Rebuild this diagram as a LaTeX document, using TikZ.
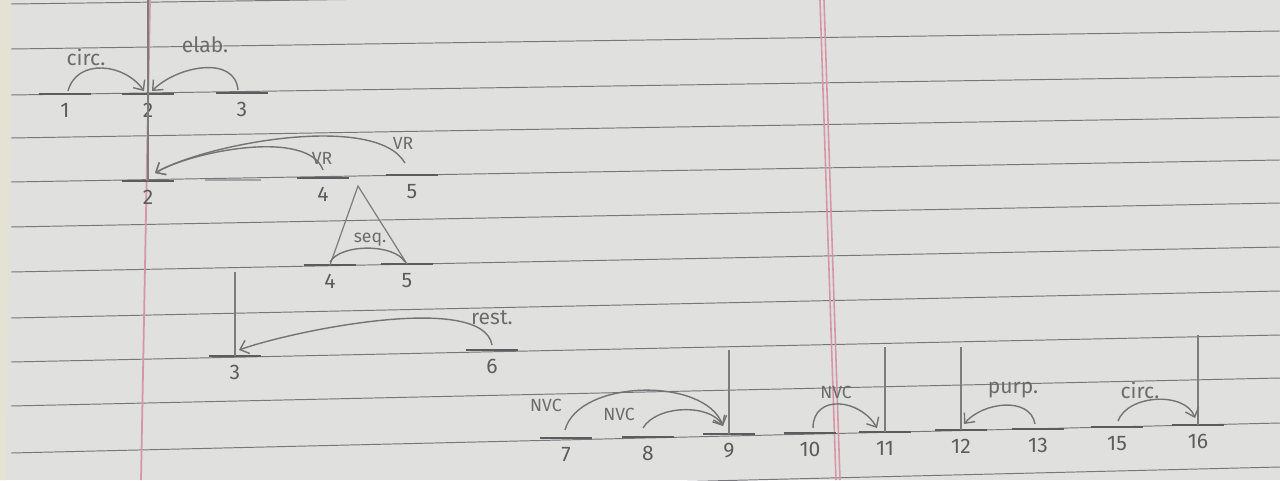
\documentclass[tikz,border=0pt]{standalone}
\usepackage{fontspec}
\setmainfont{Fira Sans}
\usetikzlibrary{arrows.meta}

\definecolor{paper}{RGB}{224,224,222}
\definecolor{ruling}{RGB}{118,118,124}
\definecolor{marginred}{RGB}{214,150,166}
\definecolor{pencil}{RGB}{92,92,92}
\definecolor{paperedge}{RGB}{228,226,210}

\begin{document}
\begin{tikzpicture}[
  x=0.02cm, y=-0.02cm,
  >={Straight Barb[length=4.5pt,width=8pt]},
  font=\fontsize{12}{14}\selectfont,
  seg/.style={inner sep=0pt, minimum width=1.04cm, minimum height=0pt,
    append after command={(\tikzlastnode.west) edge[draw=pencil, line width=1.2pt] (\tikzlastnode.east)}},
  gapseg/.style={inner sep=0pt, minimum width=1.1cm, minimum height=0pt,
    append after command={(\tikzlastnode.west) edge[draw=pencil!55, line width=1.2pt] (\tikzlastnode.east)}},
  num/.style={text=pencil, inner sep=2pt, yshift=-3pt},
  rel/.style={->, draw=pencil!85, line width=0.8pt},
  plainrel/.style={draw=pencil!85, line width=0.8pt},
  stem/.style={draw=pencil!80, line width=0.7pt},
  rlab/.style={text=pencil!90, inner sep=1pt},
  smalllab/.style={rlab, font=\fontsize{10}{12}\selectfont},
  ruled/.style={draw=ruling, line width=0.55pt}
]
\useasboundingbox (0,0) rectangle (1280,480);
\clip (0,0) rectangle (1280,480);

% paper
\fill[paper] (0,0) rectangle (1280,480);
\fill[paperedge] (0,0) -- (12,0) -- (6,480) -- (0,480) -- cycle;
\foreach \l/\r in {4/-13, 49/31, 95/76, 138/117, 182/160, 227/203, 272/247, 318/291, 362/335, 406/378, 453/423, 498/467}
  \draw[ruled] (11,\l) -- (1280,\r);
\draw[marginred, line width=1pt] (150,0) -- (141,480);
\draw[marginred, line width=0.9pt] (820,0) -- (836,480);
\draw[marginred, line width=0.9pt] (824,0) -- (840,480);

% first level
\node[seg, label={[num]below:1}] (a1) at (65,94) {};
\node[seg, label={[num]below:2}] (a2) at (148,94) {};
\node[seg, label={[num]below:3}] (a3) at (242,93) {};

% second level
\node[seg, label={[num]below:2}] (b2) at (148,181) {};
\node[gapseg] (b3) at (233,180) {};
\node[seg, label={[num]below:4}] (b4) at (323,178) {};
\node[seg, label={[num]below:5}] (b5) at (412,175) {};

\node[seg, label={[num]below:4}] (c4) at (330,265) {};
\node[seg, label={[num]below:5}] (c5) at (407,264) {};

\node[seg, label={[num]below:3}] (d3) at (235,356) {};
\node[seg, label={[num]below:6}] (d6) at (492,350) {};

% bottom row
\node[seg, label={[num]below:7}] (e7) at (566,438) {};
\node[seg, label={[num]below:8}] (e8) at (648,437) {};
\node[seg, label={[num]below:9}] (e9) at (729,434) {};
\node[seg, label={[num]below:10}] (e10) at (810,433) {};
\node[seg, label={[num]below:11}] (e11) at (885,432) {};
\node[seg, label={[num]below:12}] (e12) at (961,430) {};
\node[seg, label={[num]below:13}] (e13) at (1038,429) {};
\node[seg, label={[num]below:15}] (e15) at (1117,427) {};
\node[seg, label={[num]below:16}] (e16) at (1198,425) {};

% nucleus stems
\coordinate (top2) at (148,0);
\coordinate (top3) at (235,272);
\coordinate (top9) at (729,350);
\coordinate (top11) at (885,347);
\coordinate (top12) at (961,347);
\coordinate (top16) at (1198,335);
\coordinate (apex) at (358,186);
\draw[stem] (top2) -- (b2.center);
\draw[stem] (top3) -- (d3.center);
\draw[stem] (top9) -- (e9.center);
\draw[stem] (top11) -- (e11.center);
\draw[stem] (top12) -- (e12.center);
\draw[stem] (top16) -- (e16.center);
\draw[stem] (c4.center) -- (apex) -- (c5.center);

% relations
\draw[rel] ([shift={(3,-3)}]a1.center) to[out=75,in=125,looseness=1.15] ([shift={(-4,-3)}]a2.center);
\draw[rel] ([shift={(-4,-3)}]a3.center) to[out=95,in=45,looseness=1.05] ([shift={(4,-3)}]a2.center);
\draw[rel] ([shift={(0,-8)}]b4.center) to[out=110,in=30,looseness=0.67] ([shift={(7,-8)}]b2.center);
\draw[rel] ([shift={(-7,-12)}]b5.center) to[out=120,in=30,looseness=0.6] ([shift={(7,-8)}]b2.center);
\draw[plainrel] ([shift={(0,-3)}]c4.center) to[out=60,in=120,looseness=0.73] ([shift={(-2,-2)}]c5.center);
\draw[rel] ([shift={(0,-5)}]d6.center) to[out=100,in=20,looseness=0.55] ([shift={(4,-6)}]d3.center);
\draw[rel] ([shift={(-1,-8)}]e7.center) to[out=75,in=110,looseness=0.85] ([shift={(-6,-8)}]e9.center);
\draw[rel] ([shift={(-5,-9)}]e8.center) to[out=60,in=120,looseness=0.84] ([shift={(-6,-8)}]e9.center);
\draw[rel] ([shift={(3,-5)}]e10.center) to[out=90,in=120,looseness=1.37] ([shift={(-8,-4)}]e11.center);
\draw[rel] ([shift={(-3,-5)}]e13.center) to[out=100,in=50,looseness=1.03] ([shift={(3,-6)}]e12.center);
\draw[rel] ([shift={(1,-6)}]e15.center) to[out=70,in=110,looseness=0.94] ([shift={(-3,-7)}]e16.center);

% relation names
\node[rlab] (lcirca) at (86,57) {circ.};
\node[rlab] (lelab) at (205,45) {elab.};
\node[smalllab] (lvra) at (322,158) {VR};
\node[smalllab] (lvrb) at (403,143) {VR};
\node[smalllab] (lseq) at (370,240) {seq.};
\node[rlab] (lrest) at (492,318) {rest.};
\node[smalllab] (lnvca) at (546,405) {NVC};
\node[smalllab] (lnvcb) at (619,414) {NVC};
\node[smalllab] (lnvcc) at (836,392) {NVC};
\node[rlab] (lpurp) at (1013,390) {purp.};
\node[rlab] (lcircb) at (1140,390) {circ.};
\end{tikzpicture}
\end{document}
